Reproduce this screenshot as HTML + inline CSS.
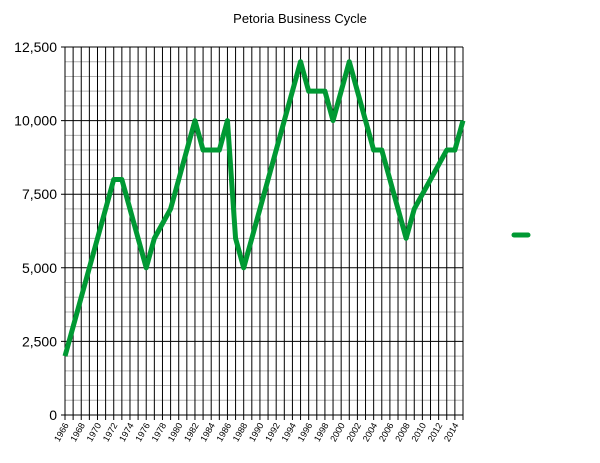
<!DOCTYPE html>
<html><head><meta charset="utf-8"><style>
body{margin:0;background:#fff;}
svg{display:block;font-family:"Liberation Sans",Arial,sans-serif;}
</style></head><body>
<svg id="chart" width="600" height="463">
<text x="300" y="23" text-anchor="middle" font-size="13">Petoria Business Cycle</text>
<g id="grid"></g><g id="axes"></g>
<polyline id="series" fill="none" stroke="#009933" stroke-width="5" stroke-linejoin="round"></polyline>
<line x1="514" y1="235" x2="528" y2="235" stroke="#009933" stroke-width="5" stroke-linecap="round"/>
</svg>
<script>
const years=[];for(let y=1966;y<=2015;y++)years.push(y);
const values=[2000,3000,4000,5000,6000,7000,8000,8000,7000,6000,5000,6000,6500,7000,8000,9000,10000,9000,9000,9000,10000,6000,5000,6000,7000,8000,9000,10000,11000,12000,11000,11000,11000,10000,11000,12000,11000,10000,9000,9000,8000,7000,6000,7000,7500,8000,8500,9000,9000,10000];
const yTicks=[0,2500,5000,7500,10000,12500];
const yTickLabels=["0","2,500","5,000","7,500","10,000","12,500"];
const X0=65,X1=463,Y0=415,Y1=47,NS="http://www.w3.org/2000/svg";
const xs=y=>X0+(y-years[0])/(years[years.length-1]-years[0])*(X1-X0);
const ys=v=>Y0-v/12500*(Y0-Y1);
const g=document.getElementById('grid'),a=document.getElementById('axes');
function mk(t,at,p){const e=document.createElementNS(NS,t);for(const k in at)e.setAttribute(k,at[k]);p.appendChild(e);return e;}
for(let v=500;v<=12500;v+=500){if(v%2500===0)continue;
const l=mk('line',{x1:X0,x2:X1,y1:ys(v),y2:ys(v),stroke:'#b0b0b0','stroke-width':1},g);

}
yTicks.forEach((v,i)=>{
const l=mk('line',{x1:X0-4,x2:X1,y1:ys(v),y2:ys(v),stroke:'#000','stroke-width':1},g);


const t=mk('text',{x:X0-8,y:ys(v)+5,'text-anchor':'end','font-size':'14'},a);t.textContent=yTickLabels[i];

});
years.forEach(y=>{
const l=mk('line',{x1:xs(y),x2:xs(y),y1:Y1,y2:Y0+5,stroke:'#000','stroke-width':1},g);


if((y-1966)%2===0&&y<2015){
const t=mk('text',{x:0,y:0,'text-anchor':'end','font-size':'9',transform:`translate(${xs(y)+4},${Y0+10}) rotate(-60)`},a);t.textContent=y;

}});
document.getElementById('series').setAttribute('points',years.map((y,i)=>xs(y)+','+ys(values[i])).join(' '));
</script>
</body></html>
